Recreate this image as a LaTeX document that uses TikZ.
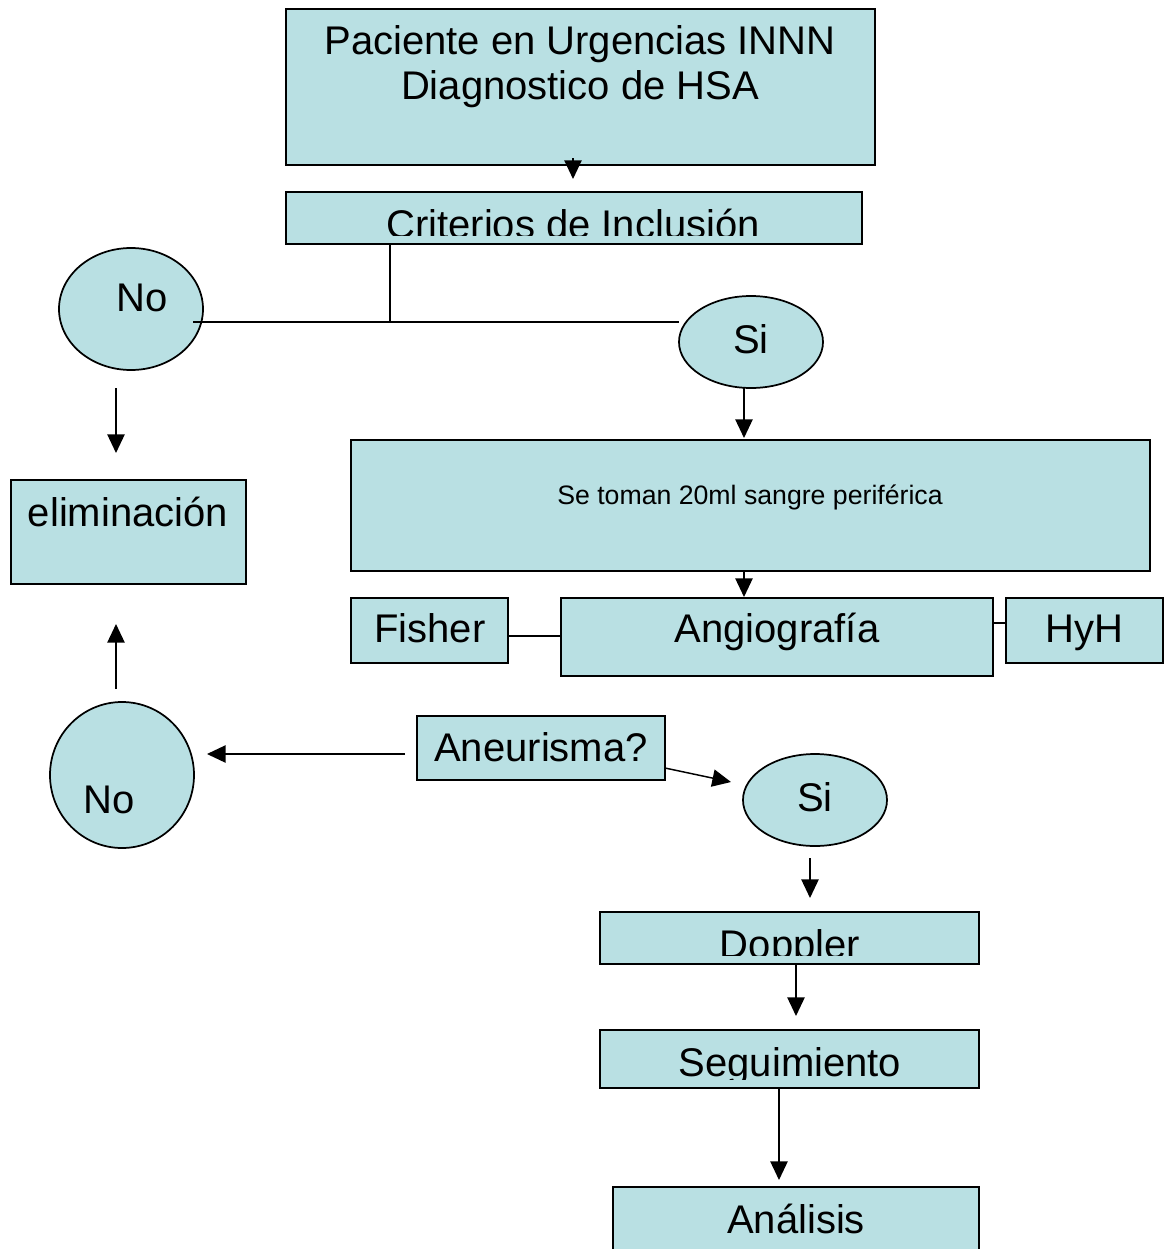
\documentclass[tikz,border=0pt]{standalone}
\usepackage{fontspec}
\setmainfont{Liberation Sans}
\usetikzlibrary{shapes.geometric,arrows.meta,fit}
\definecolor{boxfill}{RGB}{185,224,227}
\tikzset{
  box/.style={draw=black, fill=boxfill, line width=1.4pt, inner sep=0pt, rectangle},
  ell/.style={draw=black, fill=boxfill, line width=1.3pt, inner sep=0pt, ellipse},
  txt/.style={inner sep=0pt, anchor=base, font=\fontsize{30}{36}\selectfont},
  smalltxt/.style={inner sep=0pt, anchor=base, font=\fontsize{20}{24}\selectfont},
  conn/.style={line width=1.1pt},
  arr/.style={line width=1.1pt, -{Triangle[length=14pt,width=13pt]}}
}
\begin{document}
\begin{tikzpicture}[x=0.75pt,y=-0.75pt]
\useasboundingbox (0,0) rectangle (1166,1249);
\clip (0,0) rectangle (1166,1249);
\fill[white] (0,0) rectangle (1166,1249);

% boxes
\node[box, fit={(286,9) (875,165)}] (pac) {};
\node[box, fit={(286,192) (862,244)}] (crit) {};
\node[box, fit={(351,440) (1150,571)}] (sangre) {};
\node[box, fit={(351,598) (508,663)}] (fisher) {};
\node[box, fit={(561,598) (993,676)}] (angio) {};
\node[box, fit={(1006,598) (1163,663)}] (hyh) {};
\node[box, fit={(11,480) (246,584)}] (elim) {};
\node[box, fit={(417,716) (665,780)}] (aneu) {};
\node[box, fit={(600,912) (979,964)}] (dopp) {};
\node[box, fit={(600,1030) (979,1088)}] (seg) {};
\node[box, fit={(613,1187) (979,1270)}] (anal) {};

% ellipses
\node[ell, minimum width=108pt, minimum height=91.5pt] (no1) at (131,309) {};
\node[ell, minimum width=108pt, minimum height=69pt] (si1) at (751,342) {};
\node[ell, minimum width=108pt, minimum height=109.5pt] (no2) at (122,775) {};
\node[ell, minimum width=108pt, minimum height=69pt] (si2) at (815,800) {};

% texts
\node[txt] (tpac1) at (580,54) {Paciente en Urgencias INNN};
\node[txt] (tpac2) at (580,99) {Diagnostico de HSA};
\begin{scope}
\clip (286,192) rectangle (862,235);
\node[txt] (tcrit) at (573,238) {Criterios de Inclusión};
\end{scope}
\node[smalltxt] (tsangre) at (750,504) {Se toman 20ml sangre periférica};
\node[txt] (tfisher) at (430,642) {Fisher};
\node[txt] (tangio) at (777,642) {Angiografía};
\node[txt] (thyh) at (1084,642) {HyH};
\node[txt] (telim) at (128,526) {eliminación};
\node[txt] (tno1) at (142,311) {No};
\node[txt] (tsi1) at (751,353) {Si};
\node[txt] (taneu) at (541,761) {Aneurisma?};
\node[txt] (tno2) at (109,813) {No};
\node[txt] (tsi2) at (815,811) {Si};
\begin{scope}
\clip (600,912) rectangle (979,955);
\node[txt] (tdopp) at (790,958) {Doppler};
\end{scope}
\begin{scope}
\clip (600,1030) rectangle (979,1079);
\node[txt] (tseg) at (790,1076) {Seguimiento};
\end{scope}
\node[txt] (tanal) at (796,1233) {Análisis};

% connector coordinates
\coordinate (a1s) at (573,158);
\coordinate (a1e) at (573,179);
\coordinate (jn) at (390,322);
\coordinate (hl) at (193,322);
\coordinate (hr) at (679,322);
\coordinate (s1a) at (744,388);
\coordinate (s1b) at (744,438);
\coordinate (s2a) at (744,571);
\coordinate (s2b) at (744,597);
\coordinate (fa) at (0,636);
\coordinate (ah) at (0,623);
\coordinate (n1a) at (116,388);
\coordinate (n1b) at (116,453);
\coordinate (n2a) at (116,689);
\coordinate (n2b) at (116,624);
\coordinate (ana) at (405,754);
\coordinate (anb) at (207,754);
\coordinate (asa) at (665,768);
\coordinate (asb) at (731,782);
\coordinate (sda) at (810,858);
\coordinate (sdb) at (810,898);
\coordinate (dsa) at (796,964);
\coordinate (dsb) at (796,1016);
\coordinate (saa) at (779,1088);
\coordinate (sab) at (779,1180);

% connectors
\draw[arr] (a1s) -- (a1e);
\draw[conn] (crit.south -| jn) -- (jn);
\draw[conn] (hl) -- (hr);
\draw[arr] (s1a) -- (s1b);
\draw[arr] (s2a) -- (s2b);
\draw[conn] (fisher.east |- fa) -- (angio.west |- fa);
\draw[conn] (angio.east |- ah) -- (hyh.west |- ah);
\draw[arr] (n1a) -- (n1b);
\draw[arr] (n2a) -- (n2b);
\draw[arr] (ana) -- (anb);
\draw[arr] (asa) -- (asb);
\draw[arr] (sda) -- (sdb);
\draw[arr] (dsa) -- (dsb);
\draw[arr] (saa) -- (sab);
\end{tikzpicture}
\end{document}
